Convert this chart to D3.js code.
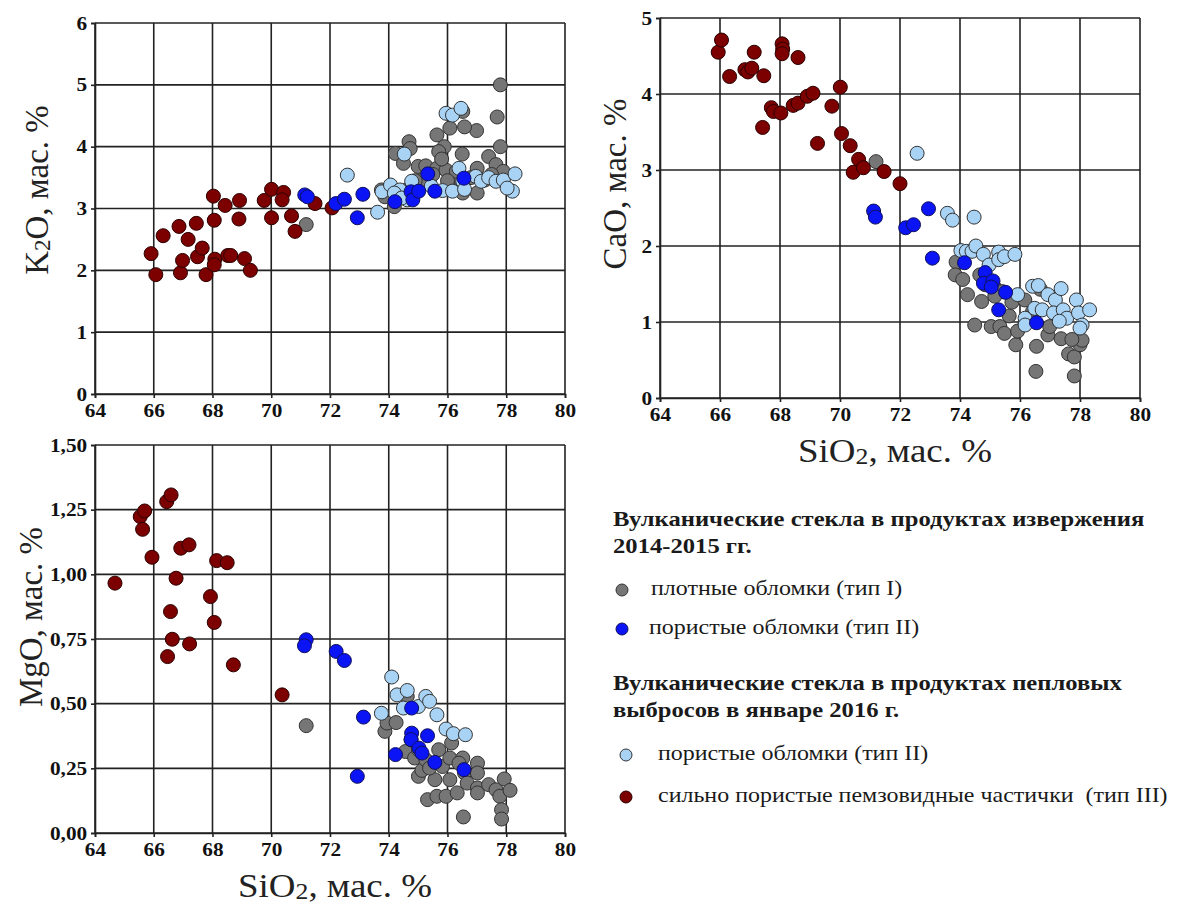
<!DOCTYPE html>
<html><head><meta charset="utf-8">
<script src="https://cdn.jsdelivr.net/npm/d3@7"></script>
<style>body{margin:0;background:#fff}svg{display:block}</style>
</head><body>
<svg id="c" width="1180" height="908"></svg>
<script>
// ---------- tick labels ----------
const siTicks = [64,66,68,70,72,74,76,78,80];
const k2oTicks = [0,1,2,3,4,5,6];
const caoTicks = [0,1,2,3,4,5];
const mgoTicks = [0,0.25,0.5,0.75,1.0,1.25,1.5];

// ---------- K2O vs SiO2 ----------
const k2oTypeI = [[71.19,2.74],[77.80,5.00],[77.69,4.48],[77.80,4.00],[77.40,3.84],[77.65,3.71],[77.90,3.60],[76.99,4.26],[76.58,4.32],[76.52,4.57],[76.08,4.30],[75.64,4.19],[75.89,4.00],[75.70,3.92],[76.50,3.88],[74.69,4.08],[74.73,3.97],[74.23,3.89],[74.50,3.73],[75.00,3.68],[75.26,3.69],[75.64,3.65],[75.95,3.62],[76.20,3.46],[76.02,3.38],[77.01,3.65],[77.01,3.25],[76.52,3.25],[73.75,3.30],[74.19,3.03],[73.87,3.19],[75.39,3.43],[75.14,3.46],[77.27,3.46],[74.90,3.45],[75.50,3.55],[76.30,3.60],[76.80,3.50],[77.50,3.55],[74.60,3.30],[76.00,3.45],[75.80,3.80]];
const k2oTypeII14 = [[71.14,3.22],[71.23,3.19],[72.20,3.08],[72.49,3.15],[72.93,2.85],[73.12,3.23],[74.21,3.11],[74.76,3.27],[74.82,3.14],[75.02,3.28],[75.33,3.56],[75.57,3.28],[76.56,3.49]];
const k2oTypeII16 = [[72.59,3.54],[73.62,2.94],[73.77,3.27],[74.06,3.38],[74.38,3.30],[74.53,3.88],[74.63,3.14],[74.78,3.44],[75.45,3.36],[75.83,3.29],[76.17,3.28],[75.95,4.54],[76.17,4.51],[76.46,4.62],[76.39,3.65],[76.52,3.44],[76.58,3.31],[76.96,3.52],[77.15,3.44],[77.40,3.50],[77.65,3.44],[77.90,3.46],[78.30,3.56],[78.21,3.28],[78.03,3.33],[74.19,3.25],[74.44,3.17]];
const k2oTypeIII = [[65.91,2.27],[66.07,1.93],[66.32,2.56],[66.86,2.71],[66.91,1.96],[66.98,2.16],[67.17,2.50],[67.45,2.76],[67.49,2.22],[67.65,2.36],[67.78,1.93],[68.03,3.20],[68.06,2.81],[68.08,2.18],[68.06,2.09],[68.43,3.05],[68.52,2.24],[68.62,2.24],[68.92,3.13],[68.90,2.83],[69.09,2.19],[69.29,2.00],[69.76,3.13],[70.01,3.31],[70.01,2.85],[70.42,3.26],[70.37,3.14],[70.69,2.88],[70.81,2.63],[71.49,3.08],[72.07,3.01]];

// ---------- CaO vs SiO2 ----------
const caoTypeI = [[71.20,3.11],[73.87,1.79],[73.84,1.62],[74.09,1.56],[74.25,1.36],[74.49,0.96],[74.72,1.27],[75.04,0.94],[75.33,0.94],[75.48,0.85],[75.64,1.08],[75.73,1.26],[75.86,0.70],[75.92,0.88],[76.55,0.68],[76.53,0.35],[76.68,1.43],[76.93,0.83],[76.99,0.94],[77.37,0.78],[77.62,0.58],[77.81,0.54],[77.81,0.29],[78.00,0.70],[78.07,0.76],[77.73,0.77],[74.84,1.49],[75.16,1.45],[75.41,1.40],[76.16,1.29],[76.42,1.14],[76.17,0.99],[75.16,1.34],[74.66,1.62]];
const caoTypeII14 = [[71.12,2.46],[71.18,2.38],[72.19,2.24],[72.45,2.28],[72.95,2.49],[73.08,1.84],[74.15,1.78],[74.84,1.65],[74.78,1.51],[75.10,1.54],[75.04,1.46],[75.52,1.39],[75.29,1.16],[76.55,0.99]];
const caoTypeII16 = [[72.57,3.22],[73.58,2.43],[73.75,2.34],[74.47,2.38],[74.03,1.94],[74.21,1.93],[74.40,1.93],[74.53,2.00],[74.78,1.89],[74.97,1.75],[75.29,1.92],[75.29,1.82],[75.48,1.86],[75.83,1.89],[75.92,1.36],[76.42,1.47],[76.61,1.48],[76.17,1.05],[76.17,0.96],[76.49,1.18],[76.74,1.16],[76.93,1.36],[77.18,1.29],[77.37,1.44],[77.12,1.12],[77.44,1.16],[77.56,1.05],[77.88,1.29],[77.95,1.12],[78.07,0.96],[78.00,0.92],[78.32,1.16],[77.31,1.01]];
const caoTypeIII = [[65.94,4.55],[66.05,4.71],[66.32,4.23],[66.83,4.32],[66.93,4.29],[67.06,4.34],[67.14,4.55],[67.46,4.24],[67.42,3.56],[67.71,3.82],[67.78,3.77],[68.03,3.75],[68.07,4.66],[68.09,4.59],[68.07,4.53],[68.60,4.48],[68.44,3.85],[68.60,3.88],[68.91,3.97],[69.10,4.01],[69.25,3.35],[69.73,3.84],[70.01,4.09],[70.05,3.48],[70.34,3.32],[70.62,3.14],[70.44,2.97],[70.78,3.03],[71.47,2.98],[72.00,2.82]];

// ---------- MgO vs SiO2 ----------
const mgoTypeI = [[71.19,0.415],[73.87,0.393],[73.94,0.425],[74.25,0.427],[74.57,0.315],[74.63,0.528],[74.88,0.290],[75.01,0.219],[75.13,0.242],[75.32,0.129],[75.57,0.206],[75.64,0.142],[75.95,0.142],[75.70,0.322],[75.83,0.257],[76.08,0.290],[76.14,0.348],[76.08,0.206],[76.33,0.155],[76.52,0.290],[76.58,0.232],[76.54,0.062],[76.67,0.193],[77.02,0.270],[77.02,0.232],[77.02,0.174],[77.02,0.155],[77.40,0.187],[77.65,0.167],[77.78,0.142],[77.84,0.090],[77.84,0.054],[77.93,0.209],[78.13,0.165],[75.26,0.283],[75.39,0.251],[75.01,0.322],[74.76,0.361],[76.39,0.270]];
const mgoTypeII14 = [[71.19,0.747],[71.13,0.724],[72.21,0.702],[72.49,0.667],[72.93,0.219],[73.14,0.448],[74.23,0.303],[74.78,0.483],[74.78,0.386],[74.76,0.361],[75.03,0.328],[75.13,0.309],[75.32,0.376],[75.57,0.273],[76.56,0.245]];
const mgoTypeII16 = [[73.75,0.463],[74.10,0.603],[74.28,0.534],[74.50,0.483],[74.63,0.551],[75.01,0.489],[75.26,0.528],[75.39,0.509],[75.64,0.457],[75.95,0.402],[76.20,0.384],[76.61,0.380]];
const mgoTypeIII = [[64.68,0.966],[65.54,1.223],[65.69,1.245],[65.62,1.174],[65.94,1.066],[66.44,1.281],[66.59,1.307],[66.57,0.856],[66.76,0.985],[66.63,0.749],[66.47,0.682],[66.92,1.101],[67.20,1.114],[67.22,0.731],[67.93,0.914],[68.06,0.814],[68.14,1.053],[68.50,1.045],[68.71,0.650],[70.37,0.534]];

const groupStyle = {
  I:    {fill:"#767676", stroke:"#333"},
  II14: {fill:"#0a14f5", stroke:"#10105a"},
  II16: {fill:"#a8d3f5", stroke:"#333"},
  III:  {fill:"#7d0000", stroke:"#2a0000"}
};

const svg = d3.select("#c");
const serif = "'Liberation Serif','Times New Roman',serif";
const STRETCH = 1.12;   // the original figure is slightly wider than tall

function panel(o){
  const x = d3.scaleLinear().domain([64,80]).range([o.left,o.right]);
  const y = d3.scaleLinear().domain(o.yDomain).range([o.bottom,o.top]);
  const g = svg.append("g");
  g.append("g").selectAll("line").data(siTicks).join("line")
    .attr("x1",d=>x(d)).attr("x2",d=>x(d)).attr("y1",o.top).attr("y2",o.bottom)
    .attr("stroke","#222").attr("stroke-width",1.6);
  g.append("g").selectAll("line").data(o.yTicks).join("line")
    .attr("y1",d=>y(d)).attr("y2",d=>y(d)).attr("x1",o.left).attr("x2",o.right)
    .attr("stroke","#222").attr("stroke-width",1.6);
  const ax = g.append("g").attr("transform",`translate(0,${o.bottom})`)
    .call(d3.axisBottom(x).tickValues(siTicks).tickSize(4).tickPadding(6).tickFormat(d3.format("d")));
  const ay = g.append("g").attr("transform",`translate(${o.left},0)`)
    .call(d3.axisLeft(y).tickValues(o.yTicks).tickSize(4).tickPadding(3).tickFormat(o.fmt));
  [ax,ay].forEach(a=>{
    a.select(".domain").attr("stroke","#222").attr("stroke-width",1.6);
    a.selectAll(".tick line").attr("stroke","#222").attr("stroke-width",1.6);
    a.selectAll("text").attr("font-family",serif).attr("font-weight","bold").attr("font-size",19).attr("fill","#111");
  });
  ax.selectAll(".tick text").attr("transform",`scale(${STRETCH},1)`);
  ay.selectAll(".tick text").attr("transform",`scale(${STRETCH},1)`);
  o.groups.forEach(([data,key])=>{
    const s = groupStyle[key];
    g.append("g").selectAll("circle").data(data).join("circle")
      .attr("cx",d=>x(d[0])).attr("cy",d=>y(d[1])).attr("r",7)
      .attr("fill",s.fill).attr("stroke",s.stroke).attr("stroke-width",1);
  });
  const t = svg.append("text").attr("transform",`translate(${o.ytx},${o.yty}) rotate(-90)`)
    .attr("text-anchor","middle").attr("dy","0.35em")
    .attr("font-family",serif).attr("font-size",33).attr("fill","#222");
  t.append("tspan").text(o.ytitle[0]);
  t.append("tspan").attr("font-size",23).attr("dy",2).text(o.ytitle[1]);
  t.append("tspan").attr("dy",-2).text(o.ytitle[2]);
  if(o.xtx){
    const tx = svg.append("g").attr("transform",`translate(${o.xtx},${o.xty}) scale(${STRETCH},1)`)
      .append("text").attr("text-anchor","middle").attr("font-family",serif).attr("font-size",33).attr("fill","#222");
    tx.append("tspan").text("SiO");
    tx.append("tspan").attr("font-size",23).attr("dy",2).text("2");
    tx.append("tspan").attr("dy",-2).text(", мас. %");
  }
}

const intFmt = d3.format("d");
const commaFmt = d => d3.format(".2f")(d).replace(".",",");

panel({left:95,right:565,top:23,bottom:394,yDomain:[0,6],yTicks:k2oTicks,fmt:intFmt,
  groups:[[k2oTypeI,"I"],[k2oTypeIII,"III"],[k2oTypeII16,"II16"],[k2oTypeII14,"II14"]],
  ytitle:["K","2","O, мас. %"],ytx:36,yty:190});
panel({left:660,right:1140,top:18,bottom:398,yDomain:[0,5],yTicks:caoTicks,fmt:intFmt,
  groups:[[caoTypeI,"I"],[caoTypeIII,"III"],[caoTypeII16,"II16"],[caoTypeII14,"II14"]],
  ytitle:["CaO, мас. %","",""],ytx:614,yty:184,xtx:895,xty:462});
panel({left:95,right:565,top:445,bottom:833,yDomain:[0,1.5],yTicks:mgoTicks,fmt:commaFmt,
  groups:[[mgoTypeI,"I"],[mgoTypeIII,"III"],[mgoTypeII16,"II16"],[mgoTypeII14,"II14"]],
  ytitle:["MgO, мас. %","",""],ytx:30,yty:617,xtx:335,xty:897});

// ---------- legend ----------
const legendHead1 = ["Вулканические стекла в продуктах извержения","2014-2015 гг."];
const legendHead2 = ["Вулканические стекла в продуктах пепловых","выбросов в январе 2016 г."];
const legendItems = [
  {key:"I", label:"плотные обломки (тип I)"},
  {key:"II14", label:"пористые обломки (тип II)"},
  {key:"II16", label:"пористые обломки (тип II)"},
  {key:"III", label:"сильно пористые пемзовидные частички  (тип III)"}
];
const L = svg.append("g");
function stretchedText(x,y,s,bold,fs){
  L.append("g").attr("transform",`translate(${x},${y}) scale(${STRETCH},1)`)
    .append("text").attr("dy","0.35em").attr("font-family",serif)
    .attr("font-weight",bold?"bold":"normal").attr("font-size",fs)
    .attr("fill","#1a1a1a").attr("xml:space","preserve").text(s);
}
legendHead1.forEach((s,i)=>stretchedText(613,518+i*27,s,true,22));
legendHead2.forEach((s,i)=>stretchedText(613,682+i*27,s,true,22));
const itemY = [588,627,753,795];
const itemMX = [622,622,626,626];
const itemTX = [651,649,658,658];
legendItems.forEach((it,i)=>{
  const s = groupStyle[it.key];
  L.append("circle").attr("cx",itemMX[i]).attr("cy",itemY[i]+2).attr("r",6)
    .attr("fill",s.fill).attr("stroke",s.stroke).attr("stroke-width",1);
  stretchedText(itemTX[i],itemY[i],it.label,false,21.4);
});
</script>
</body></html>
